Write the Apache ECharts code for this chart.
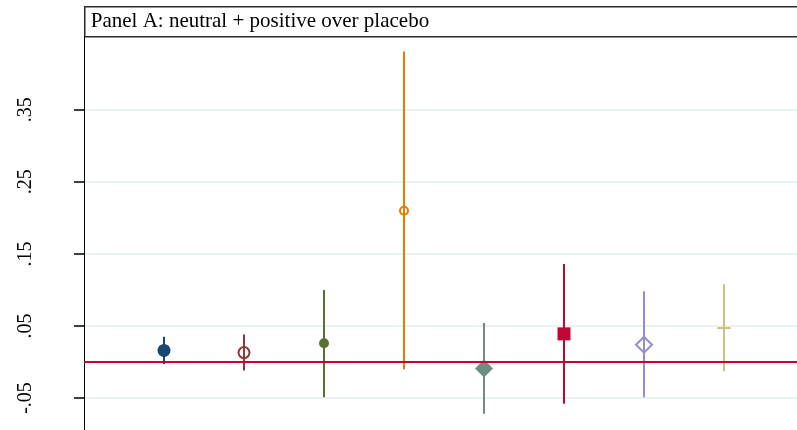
<!DOCTYPE html>
<html>
<head>
<meta charset="utf-8">
<script src="https://cdn.jsdelivr.net/npm/echarts@6/dist/echarts.min.js"></script>
<style>
  html, body { margin: 0; padding: 0; background: #fff; }
  #chart { width: 797px; height: 430px; }
</style>
</head>
<body>
<div id="chart"></div>
<script>
// coefficient estimates with confidence intervals
const positions = [1, 2, 3, 4, 5, 6, 7, 8]
const estimates = [0.016, 0.013, 0.026, 0.210, -0.009, 0.039, 0.024, 0.047]
const ciLow = [-0.003, -0.012, -0.049, -0.010, -0.072, -0.058, -0.049, -0.013]
const ciHigh = [0.035, 0.038, 0.100, 0.431, 0.054, 0.136, 0.098, 0.108]

const yTickValues = [-0.05, 0.05, 0.15, 0.25, 0.35]
const yTickLabels = ['-.05', '.05', '.15', '.25', '.35']

const panelTitle = 'Panel A: neutral + positive over placebo'

// stata s2color-ish palette
const colors = ['#1a476f', '#90353b', '#55752f', '#e37e00', '#6e8e84', '#c10534', '#938dd2', '#cac27e']
const plusPath = 'path://M0,5.5H13V7.5H0ZM5.5,0H7.5V13H5.5Z'
const markers = [
  { symbol: 'circle', size: 13, hollow: false },
  { symbol: 'circle', size: 11, hollow: true },
  { symbol: 'circle', size: 10, hollow: false },
  { symbol: 'circle', size: 8, hollow: true },
  { symbol: 'diamond', size: 18, hollow: false },
  { symbol: 'rect', size: 13, hollow: false },
  { symbol: 'diamond', size: 16, hollow: true },
  { symbol: plusPath, size: 13, hollow: false }
]

const chart = echarts.init(document.getElementById('chart'))

const pointData = positions.map((x, i) => {
  const m = markers[i]
  return {
    value: [x, estimates[i]],
    symbol: m.symbol,
    symbolSize: m.size,
    itemStyle: m.hollow
      ? { color: 'rgba(0,0,0,0)', borderColor: colors[i], borderWidth: 2, opacity: 1 }
      : { color: colors[i], borderWidth: 0, opacity: 1 }
  }
})

chart.setOption({
  animation: false,
  grid: { left: 84, top: 36, width: 720, height: 398, outerBoundsMode: 'none', containLabel: false },
  xAxis: {
    type: 'value',
    min: 0,
    max: 9,
    show: false
  },
  yAxis: {
    type: 'value',
    min: -0.1,
    max: 0.4525,
    axisLine: { show: true, lineStyle: { color: '#000', width: 1 } },
    axisTick: {
      show: true,
      length: 10,
      customValues: yTickValues,
      lineStyle: { color: '#000', width: 1.5 }
    },
    axisLabel: {
      customValues: yTickValues,
      rotate: 90,
      margin: 48,
      color: '#000',
      fontFamily: 'Liberation Serif',
      fontSize: 20,
      formatter: v => {
        const k = yTickValues.findIndex(t => Math.abs(t - v) < 1e-9)
        return k >= 0 ? yTickLabels[k] : ''
      }
    },
    splitLine: { show: true, lineStyle: { color: '#eaf2f3', width: 2 } }
  },
  graphic: [{
    type: 'group',
    left: 84,
    top: 6,
    children: [
      {
        type: 'rect',
        shape: { x: 0, y: 0, width: 730, height: 30 },
        style: { fill: '#fff', stroke: '#2b2b2b', lineWidth: 1.5 }
      },
      {
        type: 'text',
        x: 6,
        y: 15,
        style: {
          text: panelTitle,
          fill: '#000',
          font: '21px "Liberation Serif"',
          verticalAlign: 'middle'
        }
      }
    ]
  }],
  series: [
    {
      type: 'line',
      data: [],
      z: 1,
      markLine: {
        silent: true,
        symbol: 'none',
        label: { show: false },
        lineStyle: { color: '#c10534', width: 2, type: 'solid' },
        data: [{ yAxis: 0 }]
      }
    },
    {
      type: 'custom',
      z: 3,
      data: positions.map((x, i) => [x, ciLow[i], ciHigh[i]]),
      renderItem: (params, api) => {
        const i = params.dataIndex
        const a = api.coord([api.value(0), api.value(1)])
        const b = api.coord([api.value(0), api.value(2)])
        return {
          type: 'line',
          shape: { x1: a[0], y1: a[1], x2: b[0], y2: b[1] },
          style: { stroke: colors[i], lineWidth: 2 }
        }
      }
    },
    {
      type: 'scatter',
      z: 4,
      data: pointData
    }
  ]
})
</script>
</body>
</html>
